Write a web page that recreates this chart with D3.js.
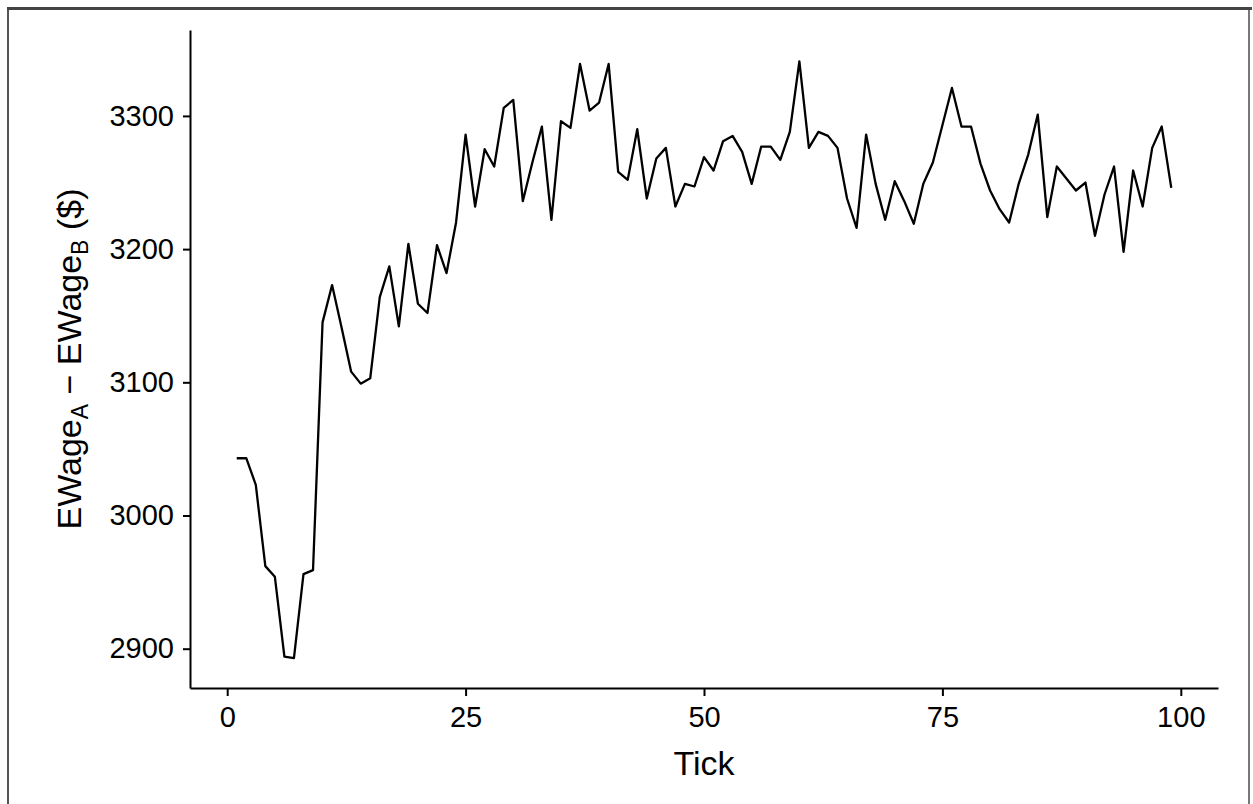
<!DOCTYPE html>
<head>
  <meta charset="utf-8">
  <title>EWage difference by tick</title>
  <style>
    body { margin: 0; background: #fff; }
    text { font-family: "Liberation Sans", Arial, sans-serif; fill: #000; }
  </style>
</head>
<body>
<svg width="1253" height="804"></svg>

<script src="https://d3js.org/d3.v7.min.js"></script>
<script>

// ticks 1..99
var ticks = d3.range(1, 100);

// EWage_A - EWage_B
var wageGap = [
  3043, 3043, 3023, 2962, 2954, 2894, 2893, 2956, 2959, 3145,
  3173, 3141, 3108, 3099, 3103, 3164, 3187, 3142, 3204, 3159,
  3152, 3203, 3182, 3220, 3286, 3232, 3275, 3262, 3306, 3312,
  3236, 3265, 3292, 3222, 3296, 3291, 3339, 3304, 3310, 3339,
  3258, 3252, 3290, 3238, 3268, 3276, 3232, 3249, 3247, 3269,
  3259, 3281, 3285, 3273, 3249, 3277, 3277, 3267, 3288, 3341,
  3276, 3288, 3285, 3276, 3238, 3216, 3286, 3249, 3222, 3251,
  3236, 3219, 3249, 3265, 3293, 3321, 3292, 3292, 3264, 3244,
  3230, 3220, 3249, 3271, 3301, 3224, 3262, 3253, 3244, 3250,
  3210, 3241, 3262, 3198, 3259, 3232, 3276, 3292, 3246
];

var xTicks = [0, 25, 50, 75, 100];
var yTicks = [2900, 3000, 3100, 3200, 3300];

var svg = d3.select("svg"),
    width = +svg.attr("width"),
    height = +svg.attr("height");

// frame around the picture
svg.append("rect").attr("x", 7).attr("y", 7).attr("width", 1245).attr("height", 3).attr("fill", "#444");
svg.append("rect").attr("x", 7).attr("y", 10).attr("width", 2).attr("height", height - 10).attr("fill", "#555");
svg.append("rect").attr("x", 1248).attr("y", 10).attr("width", 2).attr("height", height - 10).attr("fill", "#777");

// plot panel edges (window.top is taken, so prefixed names)
var pLeft = 190, pRight = 1218, pTop = 30, pBottom = 688;

var x = d3.scaleLinear()
    .domain([-3.9, 103.9])
    .range([pLeft, pRight]);

var y = d3.scaleLinear()
    .domain([2870.5, 3364.5])
    .range([pBottom, pTop]);

var xAxis = svg.append("g")
    .attr("transform", "translate(0," + pBottom + ")")
    .call(d3.axisBottom(x).tickValues(xTicks).tickFormat(d3.format("d"))
      .tickSize(8).tickSizeOuter(0).tickPadding(10));

var yAxis = svg.append("g")
    .attr("transform", "translate(" + pLeft + ",0)")
    .call(d3.axisLeft(y).tickValues(yTicks).tickFormat(d3.format("d"))
      .tickSize(7).tickSizeOuter(0).tickPadding(9));

[xAxis, yAxis].forEach(function(g) {
  g.selectAll("path.domain").attr("stroke", "#000").attr("stroke-width", 2);
  g.selectAll(".tick line").attr("stroke", "#000").attr("stroke-width", 2);
  g.selectAll(".tick text")
      .attr("fill", "#000")
      .style("font-family", "'Liberation Sans', Arial, sans-serif")
      .style("font-size", "29px");
});

var line = d3.line()
    .x(function(d, i) { return x(ticks[i]); })
    .y(function(d) { return y(d); });

svg.append("path")
    .datum(wageGap)
    .attr("fill", "none")
    .attr("stroke", "#000")
    .attr("stroke-width", 2.3)
    .attr("stroke-linejoin", "round")
    .attr("d", line);

// axis titles
svg.append("text")
    .attr("x", (pLeft + pRight) / 2)
    .attr("y", 775)
    .attr("text-anchor", "middle")
    .style("font-size", "34px")
    .text("Tick");

var yt = svg.append("text")
    .attr("transform", "translate(81," + (pTop + pBottom) / 2 + ") rotate(-90)")
    .attr("text-anchor", "middle")
    .style("font-size", "34px");
yt.append("tspan").text("EWage");
yt.append("tspan").attr("dy", 7).style("font-size", "23px").text("A");
yt.append("tspan").attr("dy", -7).text(" \u2212 EWage");
yt.append("tspan").attr("dy", 7).style("font-size", "23px").text("B");
yt.append("tspan").attr("dy", -7).text(" ($)");

</script>
</html>
